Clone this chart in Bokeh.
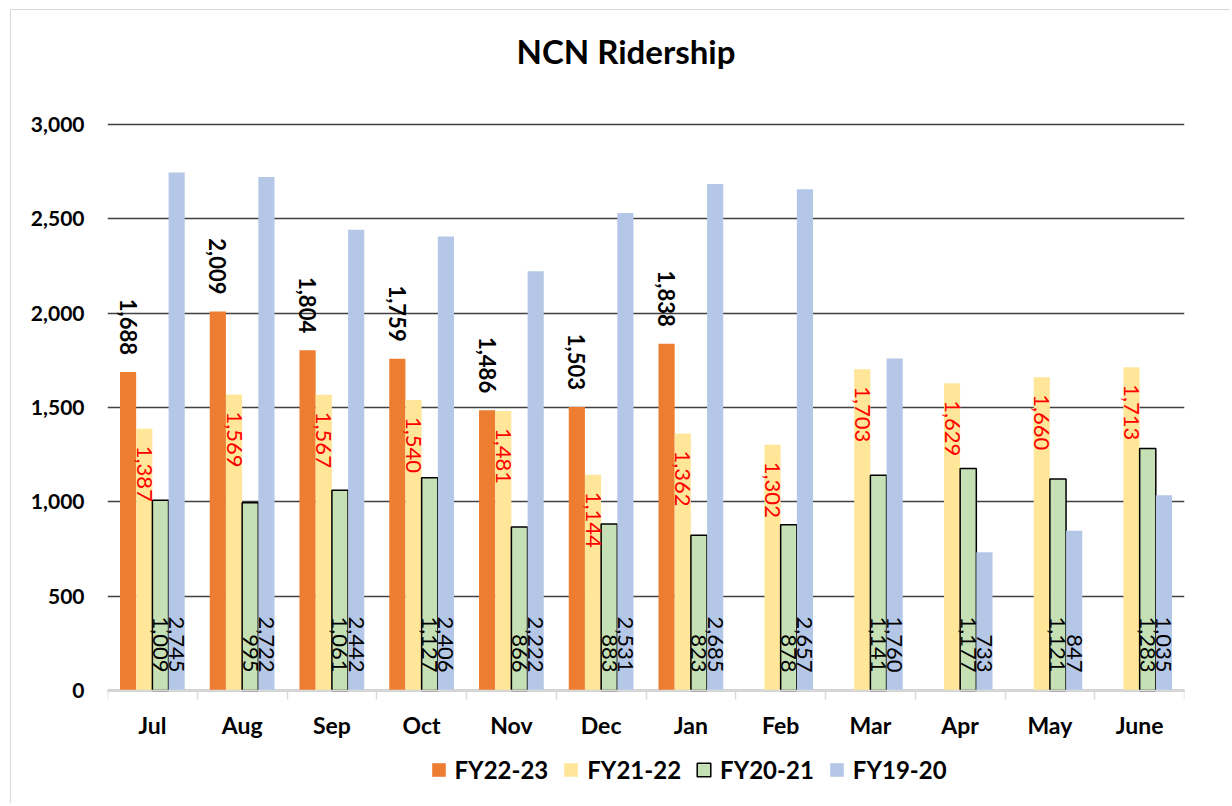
import math
from bokeh.plotting import figure
from bokeh.models import (ColumnDataSource, Range1d, FixedTicker, Legend, LegendItem,
                          NumeralTickFormatter, Label)
from bokeh.transform import dodge
from bokeh.core.properties import value
from bokeh.embed import file_html
from bokeh.resources import INLINE

# ---------------- data ----------------
months = ["Jul", "Aug", "Sep", "Oct", "Nov", "Dec", "Jan", "Feb", "Mar", "Apr", "May", "June"]
fy22_23 = [1688, 2009, 1804, 1759, 1486, 1503, 1838, None, None, None, None, None]
fy21_22 = [1387, 1569, 1567, 1540, 1481, 1144, 1362, 1302, 1703, 1629, 1660, 1713]
fy20_21 = [1009, 995, 1061, 1127, 866, 883, 823, 878, 1141, 1177, 1121, 1283]
fy19_20 = [2745, 2722, 2442, 2406, 2222, 2531, 2685, 2657, 1760, 733, 847, 1035]
series_names = ["FY22-23", "FY21-22", "FY20-21", "FY19-20"]
y_ticks = [0, 500, 1000, 1500, 2000, 2500, 3000]
title_text = "NCN Ridership"

# ---------------- styling ----------------
colors = ["#ED7D31", "#FFE699", "#C5E0B4", "#B4C7E7"]
offsets = [-0.2707, -0.0903, 0.0903, 0.2707]
bar_w = 0.18
FONT = value("Lato")

# layout (pixels inside the figure): the frame fills the whole figure height;
# value 3000 sits 114 px below the top, value 0 sits 680 px below the top.
FIG_W, FIG_H = 1220, 794
Y_MAX = 3000
PX_TOP = 114          # px from figure top to the 3000 line
PX_SPAN = 566         # px for 0..3000
PX_TITLE_BASE = 40    # px from figure top to title anchor
ppu = PX_SPAN / Y_MAX
y_end = Y_MAX + PX_TOP / ppu
y_start = -(FIG_H - PX_TOP - PX_SPAN) / ppu
title_y = Y_MAX + (PX_TOP - PX_TITLE_BASE) / ppu

centers = [i + 0.5 for i in range(len(months))]


def make_source(vals):
    xs, vs, ls = [], [], []
    for c, v in zip(centers, vals):
        if v is None:
            continue
        xs.append(c)
        vs.append(v)
        ls.append(f"{v:,}")
    return ColumnDataSource(dict(x=xs, v=vs, lbl=ls))


p = figure(width=FIG_W, height=FIG_H, title=None,
           x_range=Range1d(0, len(months)), y_range=Range1d(y_start, y_end),
           output_backend="svg", toolbar_location=None,
           min_border_left=96, min_border_right=47, min_border_top=0, min_border_bottom=0)
p.styles = {"border-left": "1.5px solid #d9d9d9", "border-top": "1.5px solid #d9d9d9",
            "margin-left": "9.5px", "margin-top": "8.5px"}
p.outline_line_color = None
p.background_fill_color = "white"
p.border_fill_color = "white"

# title (drawn as a label above the value axis)
p.add_layout(Label(x=len(months) / 2, y=title_y, x_offset=-20, text=title_text,
                   text_align="center", text_baseline="alphabetic",
                   text_font="Lato", text_font_style="bold", text_font_size="33px",
                   text_color="black"))

# grid
p.xgrid.grid_line_color = None
p.ygrid.grid_line_color = "#404040"
p.ygrid.grid_line_width = 1.5

# x axis (drawn at value 0 inside the frame)
xa = p.xaxis[0]
xa.fixed_location = 0
xa.ticker = FixedTicker(ticks=centers, minor_ticks=list(range(len(months) + 1)))
xa.major_label_overrides = {c: m for c, m in zip(centers, months)}
xa.major_tick_line_color = None
xa.major_tick_out = 0
xa.major_tick_in = 0
xa.minor_tick_line_color = "#d9d9d9"
xa.minor_tick_line_width = 1.5
xa.minor_tick_out = 9
xa.minor_tick_in = 0
xa.axis_line_color = "#d9d9d9"
xa.axis_line_width = 1.5
xa.major_label_standoff = 11
xa.major_label_text_font = "Lato"
xa.major_label_text_font_style = "bold"
xa.major_label_text_font_size = "23px"
xa.major_label_text_color = "black"

# y axis
ya = p.yaxis[0]
ya.ticker = FixedTicker(ticks=y_ticks)
ya.formatter = NumeralTickFormatter(format="0,0")
ya.axis_line_color = None
ya.major_tick_line_color = None
ya.minor_tick_line_color = None
ya.major_tick_out = 0
ya.major_tick_in = 0
ya.major_label_standoff = 23
ya.major_label_text_font = "Lato"
ya.major_label_text_font_style = "bold"
ya.major_label_text_font_size = "21px"
ya.major_label_text_color = "black"

series = [fy22_23, fy21_22, fy20_21, fy19_20]
sources = [make_source(s) for s in series]
renderers = []
for src, col, off, name in zip(sources, colors, offsets, series_names):
    if name == "FY20-21":
        r = p.vbar(x=dodge("x", off), top="v", bottom=0, width=bar_w, source=src,
                   fill_color=col, line_color="black", line_width=1.5)
    else:
        r = p.vbar(x=dodge("x", off), top="v", bottom=0, width=bar_w, source=src,
                   fill_color=col, line_color=None)
    renderers.append(r)

ang = -math.pi / 2
LBL = "22px"
# FY22-23 labels: outside end, bold black
p.text(x=dodge("x", offsets[0]), y="v", text="lbl", source=sources[0], angle=ang,
       text_align="right", text_baseline="middle", y_offset=-17,
       text_font=FONT, text_font_style="bold", text_font_size=LBL, text_color="black")
# FY21-22 labels: inside end, red
p.text(x=dodge("x", offsets[1]), y="v", text="lbl", source=sources[1], angle=ang,
       text_align="left", text_baseline="middle", y_offset=17,
       text_font=FONT, text_font_size=LBL, text_color="#FF0000")
# FY20-21 and FY19-20 labels: inside base
for k in (2, 3):
    p.text(x=dodge("x", offsets[k]), y=0, text="lbl", source=sources[k], angle=ang,
           text_align="right", text_baseline="middle", y_offset=-18,
           text_font=FONT, text_font_size=LBL, text_color="black")

legend = Legend(items=[LegendItem(label=n, renderers=[r]) for n, r in zip(series_names, renderers)],
                orientation="horizontal", location=(323, 20),
                glyph_width=17, glyph_height=17, label_standoff=8, spacing=14,
                padding=0, margin=0, border_line_color=None, background_fill_alpha=0,
                label_text_font="Lato", label_text_font_style="bold",
                label_text_font_size="24px", label_text_color="black")
p.add_layout(legend, "center")

open("out.html", "w").write(file_html(p, INLINE))
